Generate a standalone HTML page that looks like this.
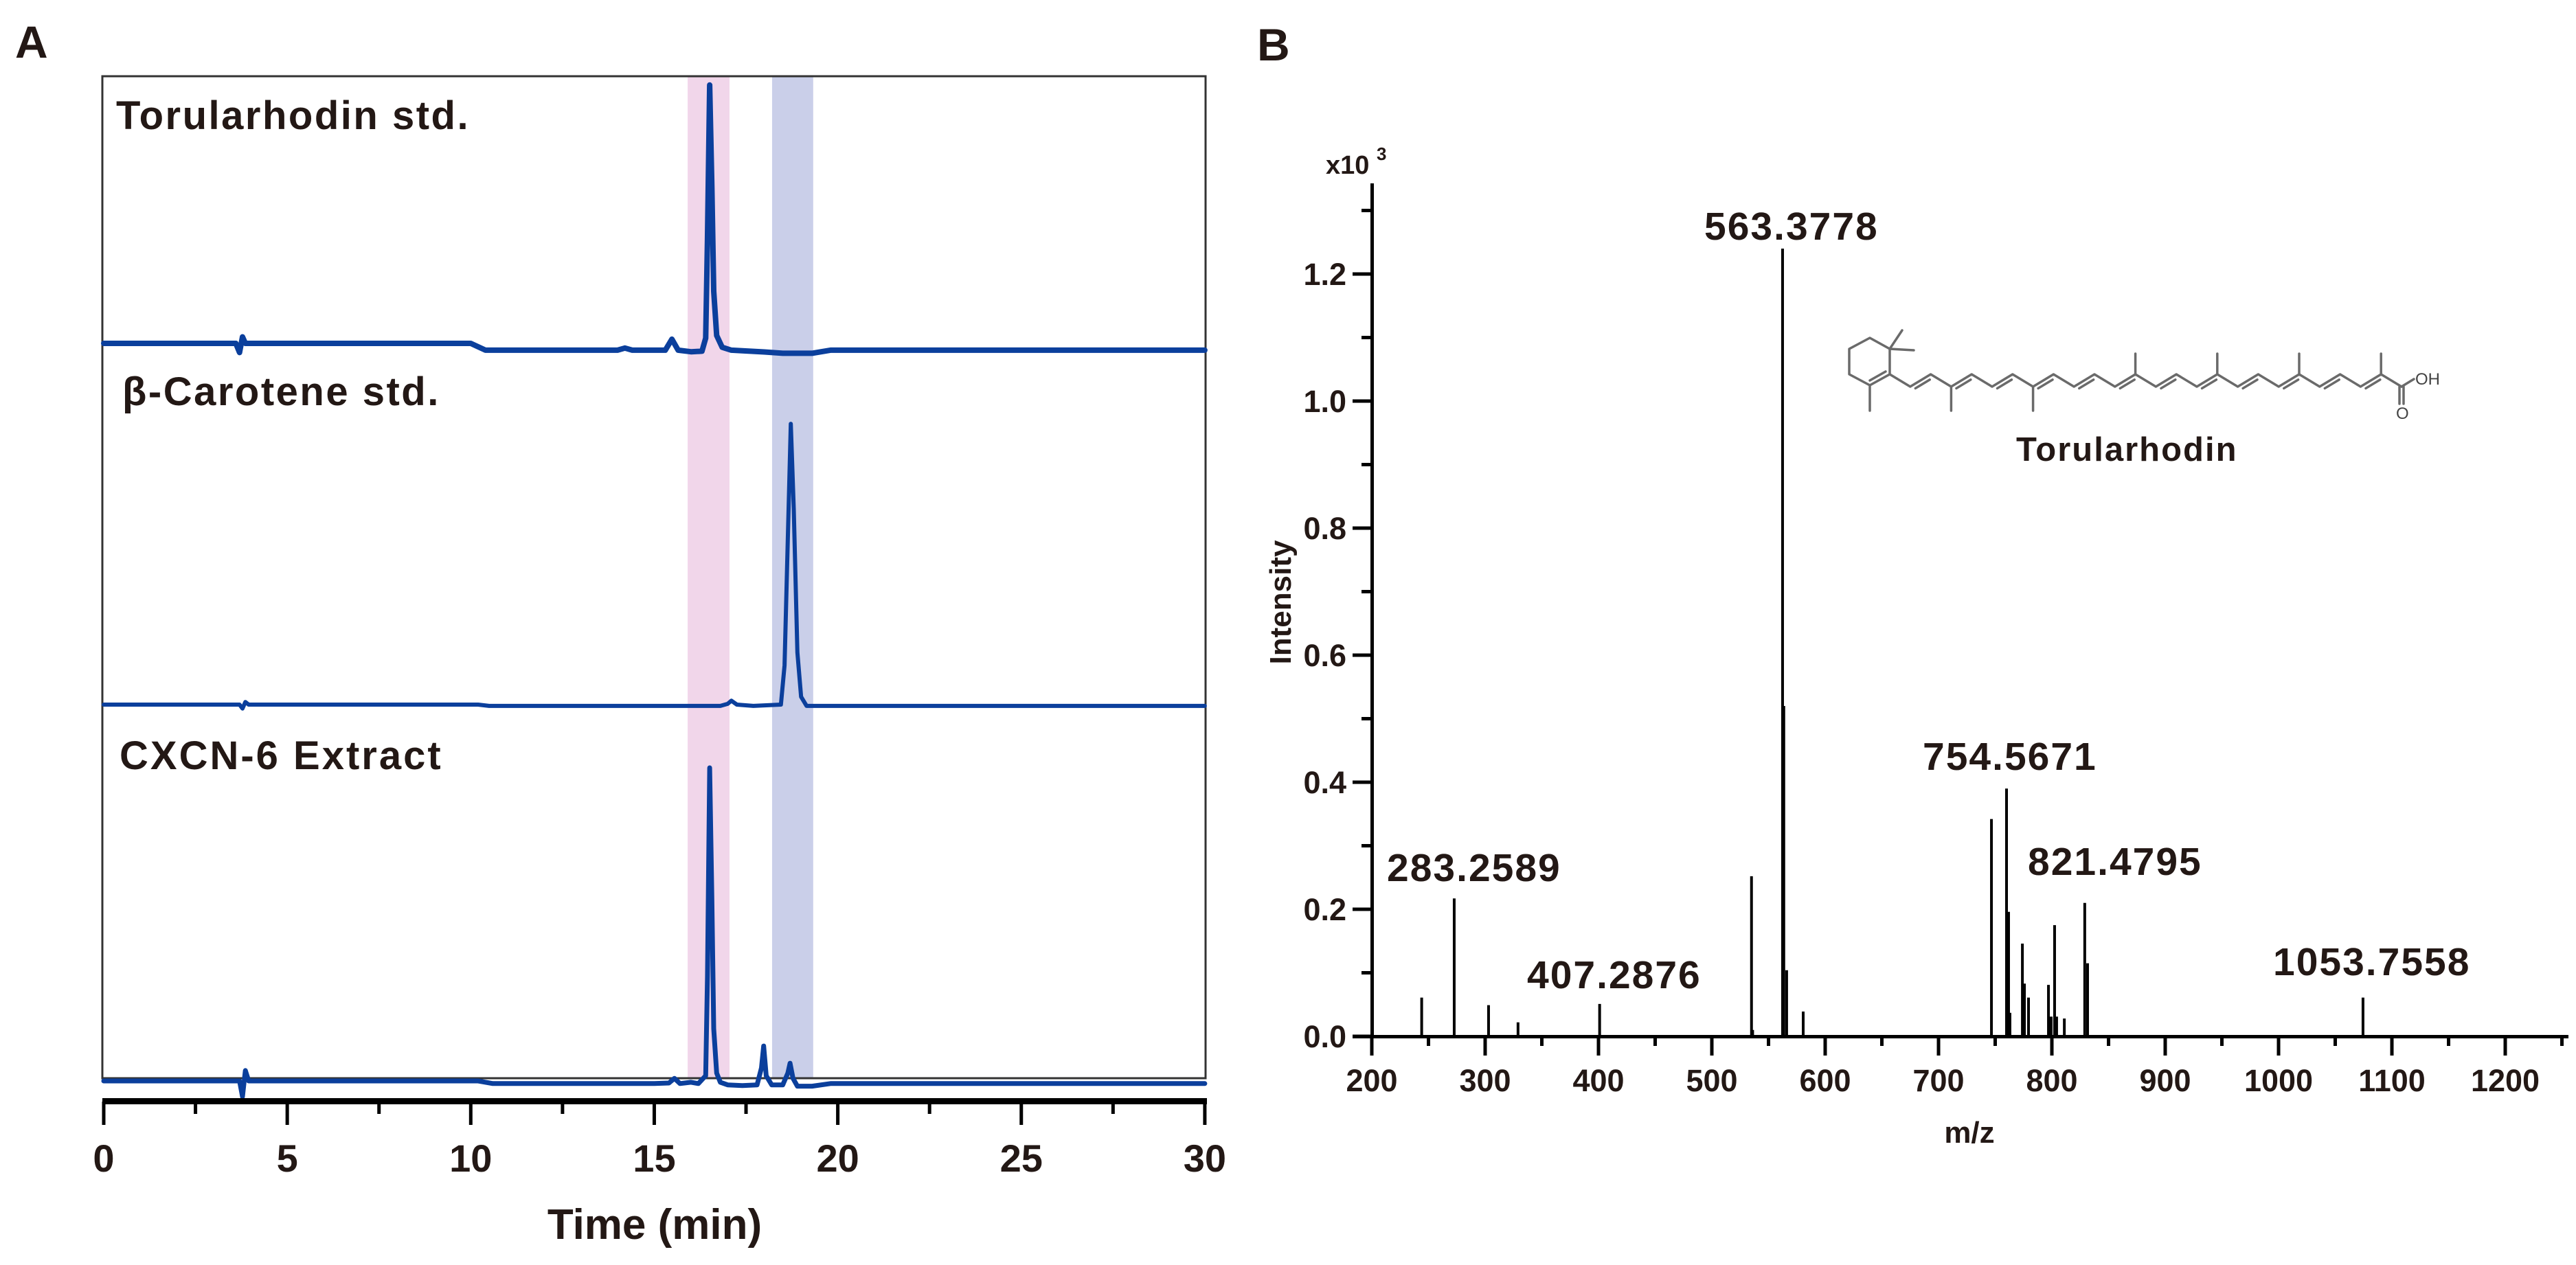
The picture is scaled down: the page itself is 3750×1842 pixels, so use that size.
<!DOCTYPE html>
<html><head><meta charset="utf-8"><style>
html,body{margin:0;padding:0;background:#fff;}
svg{display:block;}
text{font-family:"Liberation Sans",Arial,sans-serif;font-weight:bold;fill:#231815;}
</style></head><body>
<svg id="fig" width="3750" height="1842" viewBox="0 0 3750 1842" xmlns="http://www.w3.org/2000/svg">
<rect width="3750" height="1842" fill="#fff"/>
<text x="22" y="84" font-size="66">A</text>
<text x="1830" y="88" font-size="66">B</text>
<g id="panelA"></g>
<g id="panelB"></g>
<g id="mol"></g>
</svg>
<script>
// ---------- Panel A data ----------
const timeTicks = [0, 5, 10, 15, 20, 25, 30];
const bandPink = [15.91, 17.05];
const bandBlue = [18.21, 19.33];
const traceNames = ["Torularhodin  std.", "β-Carotene std.", "CXCN-6 Extract"];
const torTimes = [0,3.6,3.7,3.78,3.86,3.95,10.0,10.4,14.0,14.2,14.4,15.3,15.48,15.65,16.0,16.3,16.4,16.45,16.51,16.57,16.62,16.7,16.85,17.1,18.0,18.5,19.3,19.8,30];
const torVals  = [0,0,-3.5,2.5,0,0,0,-2.6,-2.6,-1.8,-2.6,-2.6,1.6,-2.6,-3.2,-3,2,40,99,60,20,3,-1.5,-2.6,-3.3,-3.8,-3.8,-2.6,-2.6];
const betTimes = [0,3.7,3.78,3.86,3.95,10.2,10.5,16.8,17.0,17.1,17.25,17.7,18.0,18.45,18.55,18.65,18.72,18.8,18.9,19.0,19.15,30];
const betVals  = [0,0,-1.5,1,0,0,-0.5,-0.5,0.3,1.5,0,-0.5,-0.3,0,15,70,107.6,75,20,3,-0.5,-0.5];
const extTimes = [0,3.7,3.78,3.86,3.95,10.2,10.6,15.0,15.4,15.55,15.7,16.0,16.2,16.4,16.45,16.51,16.57,16.62,16.7,16.8,17.0,17.4,17.8,17.92,17.98,18.05,18.2,18.5,18.64,18.7,18.78,18.9,19.3,19.8,30];
const extVals  = [0,0,-6,4,0,0,-1,-1,-0.8,1,-1,-0.5,-1,2,40,120,70,20,3,-0.5,-1.5,-1.8,-1.5,5,13.4,2,-1.5,-1.5,3,6.8,1,-2,-2,-1,-1];
const traceOffsets = [500, 1026, 1574];

// ---------- Panel B data ----------
const mzTicks = [200,300,400,500,600,700,800,900,1000,1100,1200];
const intTicks = [0.0,0.2,0.4,0.6,0.8,1.0,1.2];
const peakMz  = [244,272.7,303,329,401,535,536,562.4,563.5,566,580.6,746.7,760,761.8,763,774,775.8,779.4,797,799.4,802.4,804.2,811,829,831.5,1074.5];
const peakInt = [0.061,0.217,0.049,0.022,0.051,0.252,0.01,1.24,0.52,0.104,0.039,0.342,0.390,0.196,0.037,0.146,0.083,0.061,0.081,0.031,0.175,0.031,0.028,0.21,0.115,0.061];
const annText = ["283.2589","407.2876","563.3778","754.5671","821.4795","1053.7558"];
const annX    = [2019,2223,2481,2799,2952,3309];
const annY    = [1283,1439,349,1121,1274,1420];

const NS = "http://www.w3.org/2000/svg";
function mk(parent, tag, attrs){const e=document.createElementNS(NS,tag);for(const k in attrs)e.setAttribute(k,attrs[k]);parent.appendChild(e);return e;}

// ---- Panel A ----
const A = document.getElementById('panelA');
const tx = t => 151 + t*53.43;
const vScale = 3.8;
const boxL=149, boxR=1755, boxT=111, boxB=1570;
[[bandPink,'#f1d6ea','band-torularhodin'],[bandBlue,'#cacfe9','band-beta-carotene']].forEach(b=>{
  const r = mk(A,'rect',{x:tx(b[0][0]),y:boxT,width:tx(b[0][1])-tx(b[0][0]),height:boxB-boxT,fill:b[1]});
  
  
});
const frame = mk(A,'rect',{x:boxL,y:boxT,width:boxR-boxL,height:boxB-boxT,fill:'none',stroke:'#333',"stroke-width":3});


const series = [[torTimes,torVals],[betTimes,betVals],[extTimes,extVals]];
const widths=[8,6,7];
series.forEach((s,i)=>{
  const pts = s[0].map((t,j)=>tx(t).toFixed(1)+','+(traceOffsets[i]-s[1][j]*vScale).toFixed(1)).join(' ');
  const p = mk(A,'polyline',{points:pts,fill:'none',stroke:'#0b3f9c',"stroke-width":widths[i],"stroke-linejoin":"round","stroke-linecap":"round"});
  
  
});
const labY=[188,590,1120], labX=[169,178,174], labLS=[2.5,2.5,3];
traceNames.forEach((n,i)=>{
  const t = mk(A,'text',{x:labX[i],y:labY[i],"font-size":58,"letter-spacing":labLS[i]});
  t.textContent=n;
  
  
});
const ax = mk(A,'rect',{x:149,y:1599,width:1608,height:9,fill:'#000'});


for(let t=0;t<=30;t+=2.5){
  const major = (t%5===0);
  const tk = mk(A,'rect',{x:tx(t)-2.5,y:1604,width:5,height:major?34:18,fill:'#000'});
  
  
}
timeTicks.forEach(t=>{
  const l = mk(A,'text',{x:tx(t),y:1706,"font-size":56,"text-anchor":"middle"});
  l.textContent=t;
  
  
});
const xt = mk(A,'text',{x:953,y:1804,"font-size":62,"text-anchor":"middle"});
xt.textContent='Time (min)';



// ---- Panel B ----
const B = document.getElementById('panelB');
const mx = m => 1997 + (m-200)*1.65;
const iy = v => 1509 - v*925;
const yax = mk(B,'rect',{x:1995,y:267,width:5,height:1245,fill:'#000'});


const xax = mk(B,'rect',{x:1969,y:1507,width:1770,height:5,fill:'#000'});


for(let v=0.1; v<=1.31; v+=0.2){
  const m = mk(B,'rect',{x:1982,y:iy(v)-2.5,width:15,height:5,fill:'#000'});
  
  
}
intTicks.forEach(v=>{
  const tk = mk(B,'rect',{x:1969,y:iy(v)-2.5,width:28,height:5,fill:'#000'});
  
  
  const l = mk(B,'text',{x:1960,y:iy(v)+16,"font-size":45,"text-anchor":"end"});
  l.textContent=v.toFixed(1);
  
  
});
for(let m=250;m<=1250;m+=100){
  const tk = mk(B,'rect',{x:mx(m)-2.5,y:1510,width:5,height:13,fill:'#000'});
  
  
}
mzTicks.forEach(m=>{
  const tk = mk(B,'rect',{x:mx(m)-2.5,y:1510,width:5,height:27,fill:'#000'});
  
  
  const l = mk(B,'text',{x:mx(m),y:1589,"font-size":45,"text-anchor":"middle"});
  l.textContent=m;
  
  
});
peakMz.forEach((m,i)=>{
  const p = mk(B,'line',{x1:mx(m),x2:mx(m),y1:iy(0),y2:iy(peakInt[i]),stroke:'#000',"stroke-width":4});
  
  
});
annText.forEach((s,i)=>{
  const t = mk(B,'text',{x:annX[i],y:annY[i],"font-size":57,"letter-spacing":2});
  t.textContent=s;
  
  
});
const yt = mk(B,'text',{x:0,y:0,"font-size":44,"text-anchor":"middle",transform:"translate(1879,877) rotate(-90)"});
yt.textContent='Intensity';


const ex = mk(B,'text',{x:1930,y:253,"font-size":38});
ex.textContent='x10';


const ex3 = mk(B,'text',{x:2004,y:233,"font-size":26});
ex3.textContent='3';


const mzt = mk(B,'text',{x:2867,y:1664,"font-size":44,"text-anchor":"middle"});
mzt.textContent='m/z';



// ---- Molecule (decorative structure) ----
const M = document.getElementById('mol');
const g = {stroke:'#6a6a6a',"stroke-width":3.5,fill:'none',"stroke-linecap":"round","stroke-linejoin":"round"};
mk(M,'polygon',Object.assign({points:"2722,492 2751,508 2751,545 2722,561 2692,545 2692,508"},g));
mk(M,'polyline',Object.assign({points:"2722,561 2722,598"},g));
mk(M,'polyline',Object.assign({points:"2751,508 2769,481"},g));
mk(M,'polyline',Object.assign({points:"2751,508 2786,510"},g));
mk(M,'polyline',Object.assign({points:"2745,541 2722,554"},g));
const ck = k => [2751+29.8*k, (k%2===0)?545:563];
let cp=[];for(let k=0;k<=25;k++){cp.push(ck(k).join(','));}
mk(M,'polyline',Object.assign({points:cp.join(' ')},g));
for(let k=1;k<24;k+=2){
  const a=ck(k), b=ck(k+1);
  const dx=b[0]-a[0], dy=b[1]-a[1], L=Math.hypot(dx,dy);
  const nx=-dy/L*6, ny=dx/L*6;
  mk(M,'line',Object.assign({x1:a[0]+dx*0.15+nx,y1:a[1]+dy*0.15+ny,x2:b[0]-dx*0.15+nx,y2:b[1]-dy*0.15+ny},g));
}
[3,7].forEach(k=>{const p=ck(k);mk(M,'line',Object.assign({x1:p[0],y1:p[1],x2:p[0],y2:598},g));});
[12,16,20,24].forEach(k=>{const p=ck(k);mk(M,'line',Object.assign({x1:p[0],y1:p[1],x2:p[0],y2:515},g));});
const c25=ck(25);
mk(M,'line',Object.assign({x1:c25[0],y1:c25[1],x2:c25[0]+18,y2:552},g));
mk(M,'line',Object.assign({x1:c25[0]-3,y1:c25[1],x2:c25[0]-3,y2:588},g));
mk(M,'line',Object.assign({x1:c25[0]+3,y1:c25[1],x2:c25[0]+3,y2:588},g));
const oh = mk(M,'text',{x:3516,y:560,"font-size":24,style:"font-weight:normal;fill:#444"});
oh.textContent='OH';


const o = mk(M,'text',{x:3488,y:610,"font-size":24,style:"font-weight:normal;fill:#444"});
o.textContent='O';


const mn = mk(M,'text',{x:2935,y:671,"font-size":49,"letter-spacing":2});
mn.textContent='Torularhodin';


</script>
</body></html>
